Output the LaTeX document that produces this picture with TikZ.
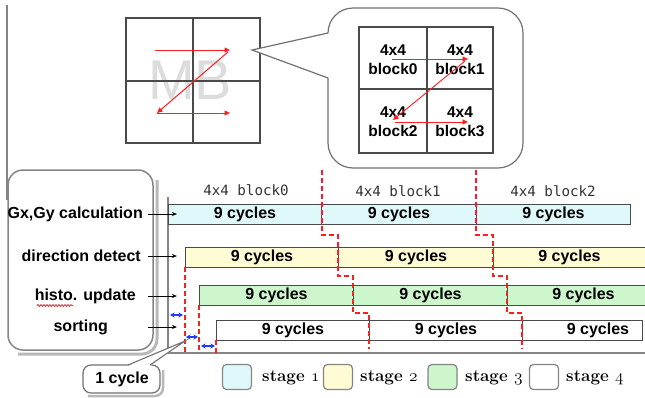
\documentclass[tikz,border=0pt]{standalone}
\usepackage{fontspec}
\setmainfont{Liberation Sans}
\newfontfamily\blockfont{DejaVu Sans Mono}
\newfontfamily\legendfont{Latin Modern Roman}
\usetikzlibrary{arrows.meta,decorations.pathmorphing}
% old-style figures taken from the math italic font
\newcommand\osnum[1]{{\fontencoding{OML}\fontfamily{lmm}\fontseries{b}\fontshape{it}\selectfont #1}}

\definecolor{zred}{HTML}{FF1E1E}
\definecolor{cyanfill}{HTML}{DFF8FA}
\definecolor{yellowfill}{HTML}{FFFBD4}
\definecolor{greenfill}{HTML}{CDF6CD}
\definecolor{barline}{HTML}{4A4A4A}
\definecolor{frame}{HTML}{858585}
\definecolor{shadowgray}{HTML}{B8B8B8}
\definecolor{cycblue}{HTML}{1E3CFF}
\definecolor{mbgray}{HTML}{DCDCDC}

\begin{document}
\begin{tikzpicture}[x=1pt,y=-1pt,
  gridline/.style={draw=barline,line width=1.1pt},
  zarrow/.style={zred,line width=1pt,-{Triangle[length=5.5pt,width=5pt]}},
  cell/.style={align=center,font=\bfseries\fontsize{15.5}{19}\selectfont,inner sep=0pt},
  seg/.style={draw=barline,line width=0.9pt,minimum height=20pt,inner sep=0pt,
    anchor=west,font=\bfseries\fontsize{16}{16}\selectfont},
  stagelbl/.style={font=\bfseries\fontsize{16}{16}\selectfont,inner sep=0pt,anchor=east},
  inarrow/.style={black,line width=0.9pt,-{Stealth[length=5pt,width=4pt]}},
  guide/.style={zred,line width=1.1pt,dash pattern=on 5pt off 3pt},
  onecyc/.style={cycblue,line width=1.2pt,{Stealth[length=4.5pt,width=5pt]}-{Stealth[length=4.5pt,width=5pt]}},
  blocklbl/.style={font=\blockfont\fontsize{14.2}{14}\selectfont,text=black!80,inner sep=0pt},
  legbox/.style={draw=frame,line width=1.2pt,rounded corners=4pt,minimum width=29pt,minimum height=25pt,inner sep=0pt},
  legtext/.style={font=\legendfont\bfseries\fontsize{17}{17}\selectfont,anchor=west,inner sep=0pt}
]
\useasboundingbox (0,0) rectangle (645,397);

% ---------- macroblock with Z-scan ----------
\node[font=\fontsize{56}{56}\selectfont,text=mbgray,inner sep=0pt] (mb) at (190,80) {MB};
\draw[gridline] (126,18) rectangle (260,143);
\draw[gridline] (193,18) -- (193,143) (126,81) -- (260,81);
\coordinate (z1) at (155,50);
\coordinate (z2) at (230,50);
\coordinate (z3) at (157,113);
\coordinate (z4) at (230,113);
\draw[zarrow] (z1) -- (z2);
\draw[zarrow] (228,52) -- (z3);
\draw[zarrow] (z3) -- (z4);

% ---------- zoom bubble ----------
\draw[frame!85!black,line width=1.2pt,fill=white,rounded corners=25pt] (328,8) rectangle (523,168);
\coordinate (tip) at (252,50);
\fill[white] (329.5,33) -- (tip) -- (329.5,78) -- cycle;
\draw[frame!85!black,line width=1.2pt,line join=miter] (328,33) -- (tip) -- (328,78);
\draw[gridline] (359,27) rectangle (493,153);
\draw[gridline] (427,27) -- (427,153) (359,89) -- (493,89);
\node[cell] (b0) at (393,60) {4x4\\block0};
\node[cell] (b1) at (460,60) {4x4\\block1};
\node[cell] (b2) at (393,122) {4x4\\block2};
\node[cell] (b3) at (460,122) {4x4\\block3};
\draw[zarrow,line width=0.9pt] (392,59) -- (468,59);
\draw[zarrow,line width=0.9pt] (465,61) -- (393,120);
\draw[zarrow,line width=0.9pt] (395,122) -- (468,122);

% ---------- stage label panel ----------
\draw[frame,line width=1.5pt] (7,5) -- (7,200);
\draw[shadowgray,line width=3pt,rounded corners=15pt] (157,180) -- (157,354) -- (18,354);
\draw[frame,line width=1.5pt,fill=white,rounded corners=15pt] (8,170) rectangle (153,350);
\node[stagelbl] (l1) at (143,214) {Gx,Gy calculation};
\node[stagelbl] (l2) at (141,256) {direction detect};
\node[stagelbl] (l3) at (136,296) {histo. update};
\node[stagelbl] (l4) at (108,327) {sorting};
\draw[zred,line width=0.8pt,decorate,decoration={snake,amplitude=0.9pt,segment length=3pt}] (37,305.5) -- (73,305.5);

% ---------- time axis ----------
\draw[frame,line width=1.2pt] (168,197) -- (168,353) -- (645,353);

% ---------- pipeline bars ----------
\node[seg,fill=cyanfill,minimum width=153pt] (s10) at (168,214) {9 cycles};
\node[seg,fill=cyanfill,minimum width=155pt] (s11) at (321,214) {9 cycles};
\node[seg,fill=cyanfill,minimum width=154pt] (s12) at (476,214) {9 cycles};

\node[seg,fill=yellowfill,minimum width=153pt] (s20) at (185,257) {9 cycles};
\node[seg,fill=yellowfill,minimum width=155pt] (s21) at (338,257) {9 cycles};
\node[seg,fill=yellowfill,minimum width=152pt] (s22) at (493,257) {9 cycles};

\node[seg,fill=greenfill,minimum width=154pt] (s30) at (199,295) {9 cycles};
\node[seg,fill=greenfill,minimum width=154pt] (s31) at (353,295) {9 cycles};
\node[seg,fill=greenfill,minimum width=152pt] (s32) at (507,295) {9 cycles};

\node[seg,fill=white,minimum width=153pt] (s40) at (216,330) {9 cycles};
\node[seg,fill=white,minimum width=153pt] (s41) at (369,330) {9 cycles};
\node[seg,fill=white,minimum width=120pt] (s42) at (522,330) {};
\node[font=\bfseries\fontsize{16}{16}\selectfont,inner sep=0pt] (t42) at (598,330) {9 cycles};

% block labels
\node[blocklbl] (k0) at (246,190) {4x4 block0};
\node[blocklbl] (k1) at (398,191) {4x4 block1};
\node[blocklbl] (k2) at (553,191) {4x4 block2};

% stage arrows
\coordinate (a1) at (148,214); \coordinate (e1) at (177,214);
\coordinate (a2) at (148,256); \coordinate (e2) at (177,256);
\coordinate (a3) at (148,296); \coordinate (e3) at (177,296);
\coordinate (a4) at (148,327); \coordinate (e4) at (177,327);
\draw[inarrow] (a1) -- (e1);
\draw[inarrow] (a2) -- (e2);
\draw[inarrow] (a3) -- (e3);
\draw[inarrow] (a4) -- (e4);

% ---------- block boundaries ----------
\draw[guide] (322,170) -- (322,235) -- (338,235) -- (338,276) -- (353,276) -- (353,313) -- (369,313) -- (369,349);
\draw[guide] (476,170) -- (476,235) -- (493,235) -- (493,276) -- (507,276) -- (507,313) -- (522,313) -- (522,349);
\draw[guide] (185,267) -- (185,353);
\draw[guide] (199,305) -- (199,353);
\draw[guide] (216,340) -- (216,353);

% one-cycle offsets
\draw[onecyc] (170,315) -- (183,315);
\draw[onecyc] (186,337) -- (198,337);
\draw[onecyc] (201,346) -- (215,346);

% ---------- "1 cycle" callout ----------
\coordinate (ctip) at (185,341);
\draw[shadowgray,line width=2.5pt,rounded corners=8pt] (163,370) -- (163,396) -- (88,396);
\draw[frame!85!black,line width=1.2pt,fill=white,rounded corners=8pt] (83,365) rectangle (160,393);
\fill[white] (128,366) -- (ctip) -- (150,366) -- cycle;
\draw[frame!85!black,line width=1.1pt] (128,365) -- (ctip) -- (150,365);
\node[font=\bfseries\fontsize{16}{16}\selectfont,inner sep=0pt] (oc) at (122,379) {1 cycle};

% ---------- legend ----------
\node[legbox,fill=cyanfill] (g1) at (237,377) {};
\node[legbox,fill=yellowfill] (g2) at (338,377) {};
\node[legbox,fill=greenfill] (g3) at (442.5,377) {};
\node[legbox,fill=white] (g4) at (544,377) {};
\node[legtext] (n1) at (262,378) {stage \osnum{1}};
\node[legtext] (n2) at (360,378) {stage \osnum{2}};
\node[legtext] (n3) at (465,378) {stage \osnum{3}};
\node[legtext] (n4) at (566,378) {stage \osnum{4}};
\end{tikzpicture}
\end{document}
